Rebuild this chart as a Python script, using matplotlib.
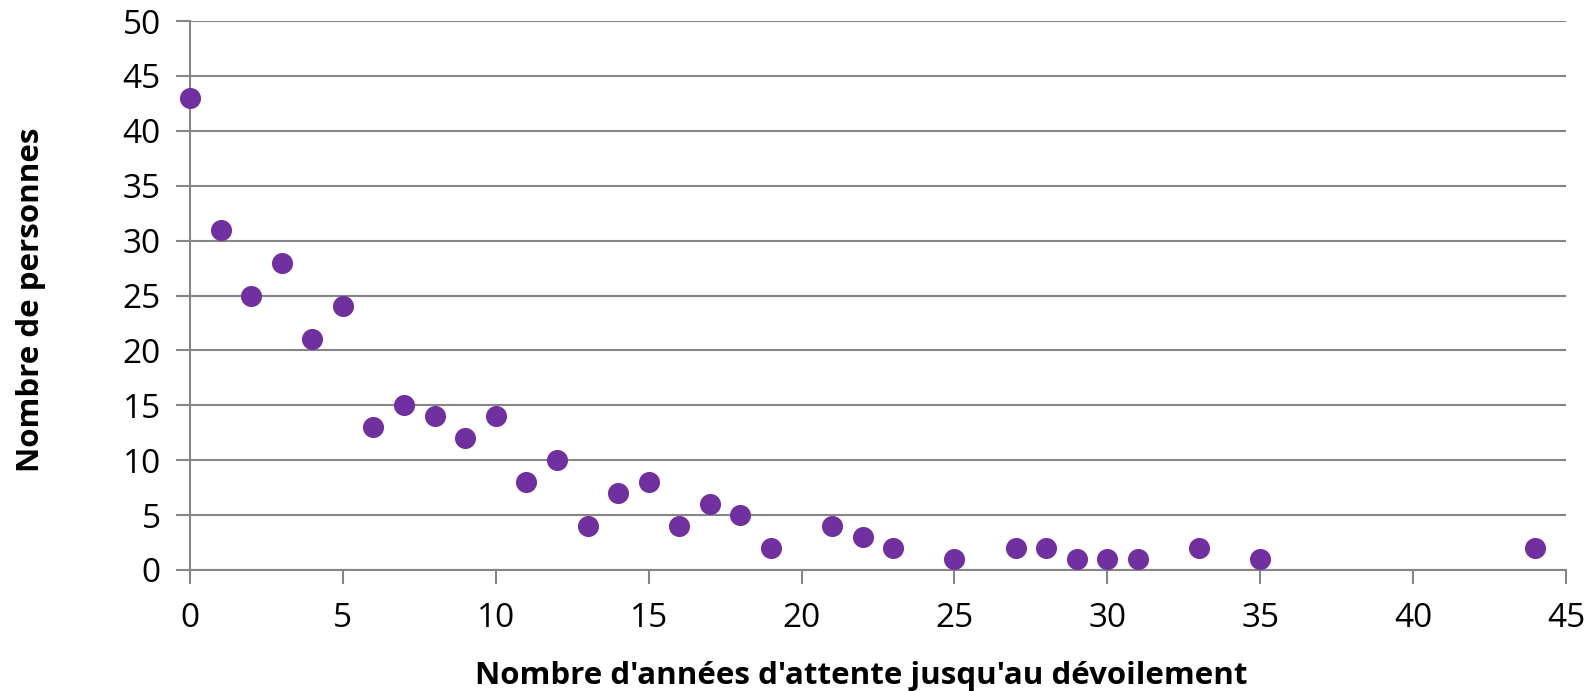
import matplotlib
matplotlib.use("Agg")
import matplotlib.pyplot as plt

years = [0, 1, 2, 3, 4, 5, 6, 7, 8, 9, 10, 11, 12, 13, 14, 15, 16, 17, 18, 19,
         21, 22, 23, 25, 27, 28, 29, 30, 31, 33, 35, 44]
persons = [43, 31, 25, 28, 21, 24, 13, 15, 14, 12, 14, 8, 10, 4, 7, 8, 4, 6, 5, 2,
           4, 3, 2, 1, 2, 2, 1, 1, 1, 2, 1, 2]
x_ticks = [0, 5, 10, 15, 20, 25, 30, 35, 40, 45]
y_ticks = [0, 5, 10, 15, 20, 25, 30, 35, 40, 45, 50]

plt.rcParams['font.family'] = ['Open Sans', 'DejaVu Sans']
grid_c = '#868686'
W, H = 1593, 691

fig = plt.figure(figsize=(W/100, H/100), dpi=100)
ax = fig.add_axes([190/W, 121/H, (1566-190)/W, (570-21)/H])

ax.scatter(years, persons, s=230, color='#7030A0', zorder=3, linewidths=0, clip_on=False)

ax.set_xlim(0, 45)
ax.set_ylim(0, 50)
ax.set_xticks(x_ticks)
ax.set_yticks(y_ticks)
ax.yaxis.grid(True, color=grid_c, linewidth=1.5)
ax.set_axisbelow(True)
for s in ['top', 'right']:
    ax.spines[s].set_visible(False)
for s in ['left', 'bottom']:
    ax.spines[s].set_color(grid_c)
    ax.spines[s].set_linewidth(1.5)
ax.tick_params(axis='both', direction='out', length=10, width=1.5, color=grid_c,
               labelsize=24, labelcolor='black')
ax.tick_params(axis='x', pad=13)
ax.tick_params(axis='y', pad=11)

fig.text(861/W, 1 - 676/H, "Nombre d'années d'attente jusqu'au dévoilement",
         fontsize=22.5, fontweight='bold', ha='center', va='center')
fig.text(31/W, 1 - 300/H, "Nombre de personnes", fontsize=22.5, fontweight='bold',
         ha='center', va='center', rotation=90)

fig.savefig('out.png', dpi=100)
